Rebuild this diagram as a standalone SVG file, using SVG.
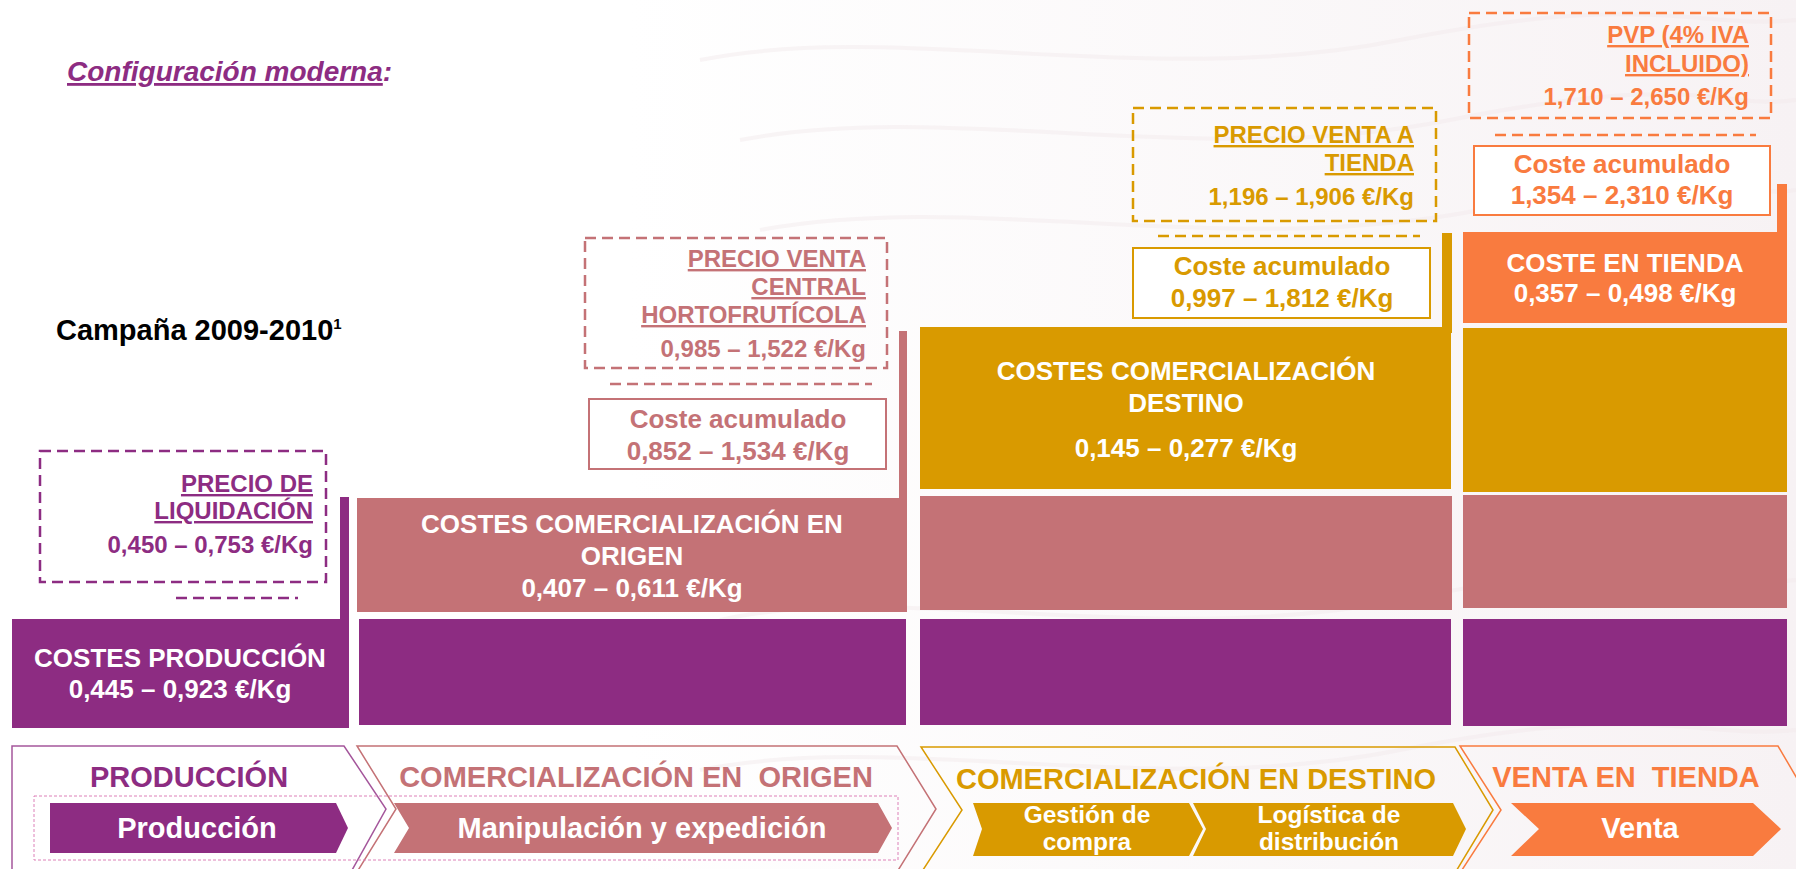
<svg xmlns="http://www.w3.org/2000/svg" width="1796" height="869" viewBox="0 0 1796 869">
<defs>
<linearGradient id="bg" x1="0" y1="0" x2="1" y2="0">
<stop offset="0" stop-color="#ffffff"/>
<stop offset="0.35" stop-color="#ffffff"/>
<stop offset="1" stop-color="#f7f2f4"/>
</linearGradient>
<style>
text{font-family:"Liberation Sans",Arial,sans-serif;font-weight:bold}
.w{fill:#ffffff}
.t26{font-size:26px}
.t24{font-size:24px}
.t29{font-size:29px}
.mid{text-anchor:middle}
.end{text-anchor:end}
.u{text-decoration:underline;text-decoration-thickness:2.5px}
.pur{fill:#8D2C82}
.pnk{fill:#C47276}
.gld{fill:#D99A00}
.org{fill:#F97B3F}
.dash{fill:none;stroke-width:2.5;stroke-dasharray:11 6}
.box{fill:#ffffff;stroke-width:2}
.chev{fill:none;stroke-width:1.5}
.wave{fill:none;stroke:#f1e9ec;stroke-width:4;opacity:0.45}
</style>
</defs>
<rect width="1796" height="869" fill="url(#bg)"/>
<g id="texture">
<path class="wave" d="M700 60 C900 20 1150 90 1400 40 S1700 30 1796 20"/>
<path class="wave" d="M740 140 C950 100 1200 170 1450 120 S1720 110 1796 100"/>
<path class="wave" d="M760 230 C980 190 1220 260 1480 210 S1740 200 1796 190"/>
<path class="wave" d="M720 620 C900 580 1150 650 1400 600 S1700 590 1796 580"/>
<path class="wave" d="M700 770 C900 730 1150 800 1400 750 S1700 740 1796 730"/>
</g>

<g id="title">
<text x="67" y="81" style="font-size:28px;font-style:italic" class="pur"><tspan class="u">Configuración moderna</tspan>:</text>
</g>
<g id="campaign">
<text x="56" y="340" style="font-size:29px" fill="#000">Campaña 2009-2010<tspan dy="-11" style="font-size:15px">1</tspan></text>
</g>

<!-- Column 1: Producción -->
<g id="col1">
<rect x="12" y="619" width="337" height="109" class="pur"/>
<rect x="340" y="497" width="9" height="125" class="pur"/>
<text x="180" y="667" class="w t26 mid">COSTES PRODUCCIÓN</text>
<text x="180" y="698" class="w t26 mid">0,445 – 0,923 €/Kg</text>
</g>
<g id="liquidacion">
<rect x="40" y="451" width="286" height="131" class="dash" stroke="#8D2C82"/>
<line x1="176" y1="598" x2="298" y2="598" class="dash" stroke="#8D2C82"/>
<text x="313" y="492" class="t24 end pur u">PRECIO DE</text>
<text x="313" y="519" class="t24 end pur u">LIQUIDACIÓN</text>
<text x="313" y="553" class="t24 end pur">0,450 – 0,753 €/Kg</text>
</g>

<!-- Column 2: Comercialización en origen -->
<g id="col2">
<rect x="357" y="498" width="550" height="114" class="pnk"/>
<rect x="899" y="331" width="8" height="170" class="pnk"/>
<rect x="359" y="619" width="547" height="106" class="pur"/>
<text x="632" y="533" class="w t26 mid">COSTES COMERCIALIZACIÓN EN</text>
<text x="632" y="565" class="w t26 mid">ORIGEN</text>
<text x="632" y="597" class="w t26 mid">0,407 – 0,611 €/Kg</text>
</g>
<g id="central">
<rect x="585" y="238" width="302" height="130" class="dash" stroke="#C47276"/>
<line x1="610" y1="384" x2="872" y2="384" class="dash" stroke="#C47276"/>
<text x="866" y="267" class="t24 end pnk u">PRECIO VENTA</text>
<text x="866" y="295" class="t24 end pnk u">CENTRAL</text>
<text x="866" y="323" class="t24 end pnk u">HORTOFRUTÍCOLA</text>
<text x="866" y="357" class="t24 end pnk">0,985 – 1,522 €/Kg</text>
</g>
<g id="acum-origen">
<rect x="589" y="399" width="297" height="70" class="box" stroke="#C47276"/>
<text x="738" y="428" class="t26 mid pnk">Coste acumulado</text>
<text x="738" y="460" class="t26 mid pnk">0,852 – 1,534 €/Kg</text>
</g>

<!-- Column 3: Comercialización en destino -->
<g id="col3">
<rect x="920" y="327" width="531" height="162" class="gld"/>
<rect x="1442" y="233" width="10" height="100" class="gld"/>
<rect x="920" y="496" width="532" height="114" class="pnk"/>
<rect x="920" y="619" width="531" height="106" class="pur"/>
<text x="1186" y="380" class="w t26 mid">COSTES COMERCIALIZACIÓN</text>
<text x="1186" y="412" class="w t26 mid">DESTINO</text>
<text x="1186" y="457" class="w t26 mid">0,145 – 0,277 €/Kg</text>
</g>
<g id="tienda-precio">
<rect x="1133" y="108" width="303" height="113" class="dash" stroke="#D99A00"/>
<line x1="1158" y1="236" x2="1420" y2="236" class="dash" stroke="#D99A00"/>
<text x="1414" y="143" class="t24 end gld u">PRECIO VENTA A</text>
<text x="1414" y="171" class="t24 end gld u">TIENDA</text>
<text x="1414" y="205" class="t24 end gld">1,196 – 1,906 €/Kg</text>
</g>
<g id="acum-destino">
<rect x="1133" y="248" width="297" height="70" class="box" stroke="#D99A00"/>
<text x="1282" y="275" class="t26 mid gld">Coste acumulado</text>
<text x="1282" y="307" class="t26 mid gld">0,997 – 1,812 €/Kg</text>
</g>

<!-- Column 4: Venta en tienda -->
<g id="col4">
<rect x="1463" y="232" width="324" height="91" class="org"/>
<rect x="1777" y="184" width="10" height="50" class="org"/>
<rect x="1463" y="328" width="324" height="164" class="gld"/>
<rect x="1463" y="495" width="324" height="113" class="pnk"/>
<rect x="1463" y="619" width="324" height="107" class="pur"/>
<text x="1625" y="272" class="w t26 mid">COSTE EN TIENDA</text>
<text x="1625" y="302" class="w t26 mid">0,357 – 0,498 €/Kg</text>
</g>
<g id="pvp">
<rect x="1469" y="13" width="302" height="105" class="dash" stroke="#F97B3F"/>
<line x1="1495" y1="135" x2="1756" y2="135" class="dash" stroke="#F97B3F"/>
<text x="1749" y="43" class="t24 end org u">PVP (4% IVA</text>
<text x="1749" y="72" class="t24 end org u">INCLUIDO)</text>
<text x="1749" y="105" class="t24 end org">1,710 – 2,650 €/Kg</text>
</g>
<g id="acum-tienda">
<rect x="1474" y="146" width="296" height="69" class="box" stroke="#F97B3F"/>
<text x="1622" y="173" class="t26 mid org">Coste acumulado</text>
<text x="1622" y="204" class="t26 mid org">1,354 – 2,310 €/Kg</text>
</g>

<!-- Bottom process chain -->
<g id="connectors">
<polyline points="12,880 12,746 344,746 386,809 351,872" class="chev" stroke="#8D2C82" stroke-opacity="0.8"/>
<polyline points="357,872 396,809 357,746 897,746 936,809 897,872" class="chev" stroke="#C47276"/>
<polyline points="921,873 962,810 921,747 1455,747 1493,810 1455,873" class="chev" stroke="#D99A00"/>
<polyline points="1460,873 1501,810 1460,746 1778,746 1815,809" class="chev" stroke="#F97B3F"/>
<rect x="34" y="796" width="864" height="64" fill="none" stroke="#DD80B8" stroke-width="1" stroke-dasharray="3 2"/>
</g>
<g id="stage-produccion">
<text x="189" y="787" class="t29 mid pur">PRODUCCIÓN</text>
<polygon points="50,803 336,803 348,828 336,853 50,853" class="pur"/>
<text x="197" y="838" class="w t29 mid">Producción</text>
</g>
<g id="stage-origen">
<text x="636" y="787" class="t29 mid pnk" xml:space="preserve">COMERCIALIZACIÓN EN  ORIGEN</text>
<polygon points="394,803 878,803 892,828 878,853 394,853 409,828" class="pnk"/>
<text x="642" y="838" class="w t29 mid">Manipulación y expedición</text>
</g>
<g id="stage-destino">
<text x="1196" y="789" class="t29 mid gld">COMERCIALIZACIÓN EN DESTINO</text>
<polygon points="973,803 1189,803 1203,829 1189,856 973,856 982,829" class="gld"/>
<polygon points="1193,803 1453,803 1466,829 1453,856 1193,856 1206,829" class="gld"/>
<text x="1087" y="823" class="w mid" style="font-size:24.5px">Gestión de</text>
<text x="1087" y="850" class="w mid" style="font-size:24.5px">compra</text>
<text x="1329" y="823" class="w mid" style="font-size:24.5px">Logística de</text>
<text x="1329" y="850" class="w mid" style="font-size:24.5px">distribución</text>
</g>
<g id="stage-tienda">
<text x="1626" y="787" class="t29 mid org" xml:space="preserve">VENTA EN  TIENDA</text>
<polygon points="1511,803 1753,803 1781,829 1753,856 1511,856 1539,829" class="org"/>
<text x="1640" y="838" class="w t29 mid">Venta</text>
</g>
</svg>
